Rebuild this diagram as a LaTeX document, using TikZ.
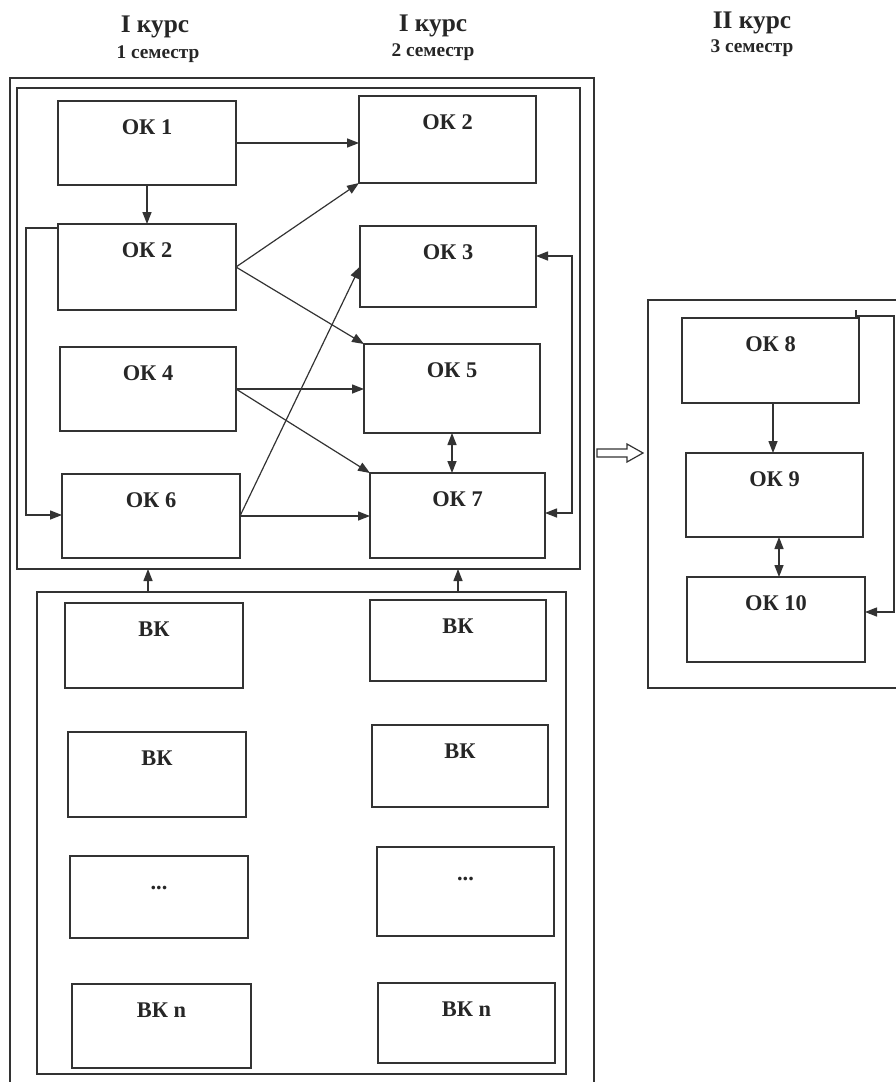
\documentclass[tikz,border=0pt]{standalone}
\usepackage{fontspec}
\setmainfont{Liberation Serif}
\usetikzlibrary{arrows.meta,calc}
\begin{document}
\begin{tikzpicture}[x=0.75pt,y=-0.75pt,
  line width=0.9pt,
  cn/.style={draw=black!80},
  box/.style={draw=black!80, line width=0.9pt, inner sep=0pt, outer sep=0pt, anchor=north west},
  frame/.style={draw=black!80, line width=1.1pt, inner sep=0pt, outer sep=0pt, anchor=north west},
  lbl/.style={font=\bfseries\fontsize{16.8}{19}\selectfont, text=black!85, inner sep=0pt, anchor=base},
  hd/.style={font=\bfseries\fontsize{19}{22}\selectfont, text=black!85, inner sep=0pt, anchor=base},
  sem/.style={font=\bfseries\fontsize{14.5}{17}\selectfont, text=black!85, inner sep=0pt, anchor=base},
  arr/.style={cn, -{Triangle[length=9pt,width=6.8pt]}},
  darr/.style={cn, {Triangle[length=9pt,width=6.8pt]}-{Triangle[length=9pt,width=6.8pt]}},
]
\newcommand\bx[6]{%
  \node[box, minimum width={(#4-#2)*0.75pt}, minimum height={(#5-#3)*0.75pt}] (#1) at (#2,#3) {};
  \node[lbl] (#1t) at ($(#1.north)+(0,33)$) {#6};}
\newcommand\fr[5]{%
  \node[frame, minimum width={(#4-#2)*0.75pt}, minimum height={(#5-#3)*0.75pt}] (#1) at (#2,#3) {};}

\path[use as bounding box] (0,0) rectangle (896,1082);
\clip (0,0) rectangle (896,1082);

% headers
\node[hd] (h1) at (155,32) {I курс};
\node[sem] (s1) at (158,58) {1 семестр};
\node[hd] (h2) at (433,31) {I курс};
\node[sem] (s2) at (433,56) {2 семестр};
\node[hd] (h3) at (752,28) {II курс};
\node[sem] (s3) at (752,52) {3 семестр};

% frames
\fr{outer}{10}{78}{594}{1095}
\fr{inner}{17}{88}{580}{569}
\fr{bottom}{37}{592}{566}{1074}
\fr{rbox}{648}{300}{915}{688}

% OK boxes
\bx{ok1}{58}{101}{236}{185}{ОК 1}
\bx{ok2r}{359}{96}{536}{183}{ОК 2}
\bx{ok2l}{58}{224}{236}{310}{ОК 2}
\bx{ok3}{360}{226}{536}{307}{ОК 3}
\bx{ok4}{60}{347}{236}{431}{ОК 4}
\bx{ok5}{364}{344}{540}{433}{ОК 5}
\bx{ok6}{62}{474}{240}{558}{ОК 6}
\bx{ok7}{370}{473}{545}{558}{ОК 7}

% BK boxes
\bx{bk1}{65}{603}{243}{688}{ВК}
\bx{bk2}{68}{732}{246}{817}{ВК}
\bx{bk3}{70}{856}{248}{938}{...}
\bx{bk4}{72}{984}{251}{1068}{ВК n}
\bx{bk5}{370}{600}{546}{681}{ВК}
\bx{bk6}{372}{725}{548}{807}{ВК}
\bx{bk7}{377}{847}{554}{936}{...}
\bx{bk8}{378}{983}{555}{1063}{ВК n}

% right column
\bx{ok8}{682}{318}{859}{403}{ОК 8}
\bx{ok9}{686}{453}{863}{537}{ОК 9}
\bx{ok10}{687}{577}{865}{662}{ОК 10}

% connectors, first block
\draw[arr] (ok1.east) -- (ok1.east -| ok2r.west);
\draw[arr] (ok1.south) -- (ok2l.north);
\draw[arr] (ok2l.east) -- (ok2r.south west);
\draw[arr] (ok2l.east) -- (ok5.north west);
\draw[arr] (ok4.east) -- (ok4.east -| ok5.west);
\draw[arr] (ok4.east) -- (ok7.north west);
\draw[arr] (ok6.east) -- (ok3.west);
\draw[arr] (ok6.east) -- (ok6.east -| ok7.west);
\draw[darr] (ok5.south) -- (ok5.south |- ok7.north);

\coordinate (l1) at (26,228);
\coordinate (l2) at (26,515);
\draw[arr] (ok2l.west |- l1) -- (l1) -- (l2) -- (l2 -| ok6.west);

\coordinate (r1) at (572,256);
\coordinate (r2) at (572,513);
\draw[darr] (r1 -| ok3.east) -- (r1) -- (r2) -- (r2 -| ok7.east);

% from BK block up
\coordinate (u1) at (148,0);
\coordinate (u2) at (458,0);
\draw[arr] (bottom.north -| u1) -- (inner.south -| u1);
\draw[arr] (bottom.north -| u2) -- (inner.south -| u2);

% transition arrow (hollow block arrow)
\coordinate (t0) at (597,453);
\draw[cn, line width=0.9pt, fill=white, line join=miter]
  (t0) ++(0,-4) -- ++(30,0) -- ++(0,-5) -- ++(16,9) -- ++(-16,9) -- ++(0,-5) -- ++(-30,0) -- cycle;

% right column connectors
\coordinate (v1) at (773,0);
\coordinate (v2) at (779,0);
\draw[arr] (ok8.south -| v1) -- (ok9.north -| v1);
\draw[darr] (ok9.south -| v2) -- (ok10.north -| v2);
\coordinate (q0) at (856,310);
\coordinate (q1) at (856,316);
\coordinate (q2) at (894,316);
\coordinate (q3) at (894,612);
\draw[arr] (q0) -- (q1) -- (q2) -- (q3) -- (q3 -| ok10.east);
\end{tikzpicture}
\end{document}
